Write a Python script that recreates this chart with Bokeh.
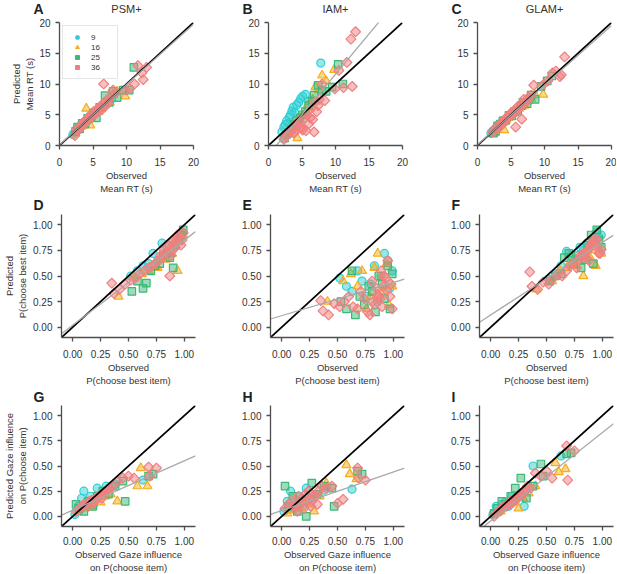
import numpy as np
from bokeh.plotting import figure
from bokeh.layouts import row, column
from bokeh.models import Range1d, FixedTicker, PrintfTickFormatter, Legend, LegendItem
from bokeh.core.properties import value
from bokeh.embed import file_html
from bokeh.resources import INLINE

set_sizes = ["9", "16", "25", "36"]
group_colors = ["#2fcfd6", "#f5ad1f", "#3cb878", "#f08080"]
group_markers = ["circle", "triangle", "square", "square"]
group_angles = [0, 0, 0, np.pi / 4]
group_msize = [8, 9, 7.5, 7]
models = ["PSM+", "IAM+", "GLAM+"]
panel_letters = [["A", "B", "C"], ["D", "E", "F"], ["G", "H", "I"]]

# ---------------- Row 1: mean RT (s) ----------------
rt_obs_9 = [2.0, 2.3, 2.5, 2.7, 2.9, 3.1, 3.3, 3.5, 3.7, 3.9, 4.2, 4.5, 4.8, 5.1, 5.5, 6.0, 7.8]
rt_psm_9 = [1.8, 2.1, 2.6, 2.5, 3.0, 3.0, 3.5, 3.3, 3.8, 4.0, 4.0, 4.7, 4.6, 5.3, 5.4, 6.1, 7.6]
rt_iam_9 = [2.2, 3.0, 3.4, 4.0, 3.6, 4.6, 5.0, 5.6, 6.2, 5.4, 6.6, 7.0, 7.6, 8.0, 8.3, 7.2, 13.4]
rt_glam_9 = [2.0, 2.4, 2.4, 2.8, 3.0, 3.3, 3.2, 3.6, 3.6, 4.1, 4.0, 4.6, 4.9, 5.0, 5.6, 5.8, 7.5]

rt_obs_16 = [2.3, 2.8, 3.2, 3.6, 4.0, 4.3, 4.6, 5.0, 5.4, 5.8, 6.2, 6.6, 7.0, 7.5, 8.0, 8.6, 9.8]
rt_psm_16 = [2.0, 2.9, 3.1, 3.3, 6.0, 4.1, 3.3, 5.2, 5.6, 5.5, 6.0, 6.9, 7.2, 7.0, 8.3, 8.8, 8.0]
rt_iam_16 = [1.5, 2.2, 2.6, 3.0, 3.5, 1.2, 4.0, 4.8, 5.2, 6.5, 6.0, 7.5, 9.5, 9.0, 11.4, 10.5, 12.3]
rt_glam_16 = [2.2, 2.6, 3.3, 3.5, 2.5, 4.2, 4.5, 5.0, 5.2, 6.0, 6.0, 6.3, 6.5, 7.2, 7.6, 8.2, 8.3]

rt_obs_25 = [2.4, 2.7, 3.0, 3.4, 3.8, 4.2, 4.7, 5.1, 5.5, 6.0, 6.5, 6.8, 7.4, 8.0, 8.6, 9.5, 10.4, 11.1]
rt_psm_25 = [2.3, 3.0, 2.7, 3.6, 3.5, 4.4, 4.6, 5.3, 4.5, 6.2, 6.4, 8.1, 7.0, 8.8, 7.8, 9.0, 9.0, 12.7]
rt_iam_25 = [1.2, 1.8, 2.0, 2.6, 3.5, 4.0, 4.5, 5.0, 5.5, 6.5, 7.2, 8.2, 9.8, 9.0, 8.8, 9.5, 13.2, 10.0]
rt_glam_25 = [2.0, 2.3, 3.2, 3.5, 4.0, 4.1, 4.9, 4.8, 5.5, 5.6, 6.5, 7.0, 6.8, 8.2, 7.5, 9.6, 10.5, 11.3]

rt_obs_36 = [2.3, 2.6, 3.0, 3.3, 3.6, 3.9, 4.2, 4.5, 4.8, 5.1, 5.4, 5.7, 6.0, 6.3, 6.6, 6.9, 7.2,
             7.6, 8.0, 8.4, 9.9, 10.5, 11.2, 11.7, 12.3, 12.5, 13.0, 3.8, 4.4, 5.0, 5.6, 6.2, 6.8, 7.4]
rt_psm_36 = [1.6, 2.6, 2.8, 3.5, 3.4, 4.1, 4.0, 4.8, 4.6, 5.5, 5.2, 6.0, 6.1, 5.8, 10.0, 7.2, 6.8,
             8.0, 9.0, 8.5, 9.0, 9.2, 10.0, 13.0, 11.8, 10.7, 12.7, 3.6, 4.6, 5.2, 5.4, 6.5, 6.4, 7.5]
rt_iam_36 = [1.0, 1.5, 2.0, 2.5, 3.0, 2.2, 3.5, 4.0, 3.0, 2.5, 4.5, 5.0, 3.5, 6.0, 4.2, 7.0, 5.5,
             7.5, 10.0, 7.3, 9.2, 12.2, 9.4, 13.5, 17.3, 9.6, 18.5, 2.0, 3.2, 2.8, 2.4, 4.5, 2.2, 6.5]
rt_glam_36 = [2.2, 2.5, 3.1, 3.0, 3.8, 3.7, 4.4, 4.4, 5.0, 5.0, 5.6, 3.0, 6.3, 6.2, 4.3, 7.5, 7.0,
              7.8, 8.2, 9.8, 10.0, 10.5, 11.8, 12.1, 11.2, 11.5, 14.4, 3.6, 4.3, 5.3, 5.4, 6.0, 6.9, 7.2]

# ---------------- Row 2: P(choose best item) ----------------
pb_obs_9 = [0.52, 0.58, 0.63, 0.68, 0.72, 0.76, 0.80, 0.83, 0.86, 0.89, 0.92, 0.95, 0.97, 0.99]
pb_psm_9 = [0.50, 0.55, 0.60, 0.62, 0.72, 0.65, 0.82, 0.70, 0.75, 0.78, 0.80, 0.85, 0.88, 0.92]
pb_iam_9 = [0.48, 0.40, 0.35, 0.55, 0.45, 0.30, 0.42, 0.60, 0.25, 0.50, 0.72, 0.65, 0.38, 0.55]
pb_glam_9 = [0.47, 0.52, 0.60, 0.74, 0.70, 0.66, 0.78, 0.75, 0.82, 0.80, 0.85, 0.93, 0.88, 0.90]

pb_obs_16 = [0.41, 0.55, 0.62, 0.68, 0.72, 0.76, 0.79, 0.83, 0.86, 0.89, 0.91, 0.94, 0.96, 0.99]
pb_psm_16 = [0.30, 0.48, 0.52, 0.55, 0.60, 0.58, 0.68, 0.66, 0.75, 0.72, 0.80, 0.55, 0.85, 0.90]
pb_iam_16 = [0.25, 0.45, 0.52, 0.40, 0.55, 0.18, 0.30, 0.58, 0.72, 0.48, 0.35, 0.62, 0.22, 0.40]
pb_glam_16 = [0.37, 0.45, 0.55, 0.58, 0.62, 0.60, 0.65, 0.50, 0.70, 0.68, 0.75, 0.60, 0.80, 0.72]

pb_obs_25 = [0.53, 0.58, 0.63, 0.66, 0.70, 0.74, 0.78, 0.81, 0.84, 0.87, 0.90, 0.92, 0.95, 0.97, 0.99]
pb_psm_25 = [0.35, 0.45, 0.38, 0.43, 0.55, 0.60, 0.62, 0.70, 0.72, 0.68, 0.58, 0.80, 0.85, 0.90, 0.95]
pb_iam_25 = [0.25, 0.18, 0.55, 0.12, 0.30, 0.22, 0.40, 0.35, 0.15, 0.50, 0.42, 0.28, 0.60, 0.18, 0.52]
pb_glam_25 = [0.45, 0.50, 0.52, 0.68, 0.72, 0.62, 0.70, 0.58, 0.66, 0.80, 0.90, 0.62, 0.95, 0.85, 0.78]

pb_obs_36 = [0.35, 0.37, 0.42, 0.47, 0.52, 0.56, 0.60, 0.64, 0.68, 0.71, 0.74, 0.77, 0.79, 0.81, 0.83,
             0.85, 0.87, 0.89, 0.91, 0.93, 0.95, 0.97, 0.99, 0.82, 0.86, 0.90, 0.94, 0.98, 0.88, 0.92]
pb_psm_36 = [0.43, 0.33, 0.37, 0.42, 0.46, 0.48, 0.52, 0.55, 0.58, 0.60, 0.62, 0.65, 0.70, 0.68, 0.72,
             0.78, 0.50, 0.75, 0.82, 0.85, 0.88, 0.80, 0.92, 0.75, 0.80, 0.84, 0.90, 0.85, 0.70, 0.78]
pb_iam_36 = [0.26, 0.16, 0.12, 0.23, 0.20, 0.25, 0.30, 0.20, 0.18, 0.35, 0.28, 0.15, 0.12, 0.45, 0.22,
             0.38, 0.30, 0.55, 0.40, 0.48, 0.65, 0.30, 0.18, 0.25, 0.32, 0.20, 0.36, 0.42, 0.28, 0.50]
pb_glam_36 = [0.54, 0.40, 0.37, 0.44, 0.42, 0.48, 0.52, 0.50, 0.55, 0.60, 0.62, 0.58, 0.66, 0.70, 0.72,
              0.68, 0.75, 0.78, 0.82, 0.80, 0.85, 0.72, 0.76, 0.70, 0.74, 0.80, 0.86, 0.72, 0.65, 0.84]

# ---------------- Row 3: gaze influence on P(choose item) ----------------
gz_obs_9 = [0.02, 0.05, 0.08, 0.10, 0.13, 0.16, 0.19, 0.22, 0.26, 0.30, 0.38, 0.63]
gz_psm_9 = [0.02, 0.10, 0.18, 0.25, 0.15, 0.20, 0.12, 0.28, 0.22, 0.30, 0.32, 0.36]
gz_iam_9 = [0.05, 0.15, 0.25, 0.08, 0.12, 0.20, 0.10, 0.28, 0.18, 0.22, 0.26, 0.27]
gz_glam_9 = [0.02, 0.10, 0.05, 0.12, 0.14, 0.10, 0.20, 0.15, 0.22, 0.10, 0.50, 0.60]

gz_obs_16 = [0.05, 0.09, 0.13, 0.17, 0.21, 0.25, 0.29, 0.34, 0.40, 0.58, 0.61, 0.67]
gz_psm_16 = [0.05, 0.08, 0.12, 0.10, 0.18, 0.14, 0.20, 0.22, 0.15, 0.30, 0.48, 0.30]
gz_iam_16 = [0.03, 0.06, 0.10, 0.08, 0.15, 0.12, 0.05, 0.20, 0.33, 0.51, 0.42, 0.37]
gz_glam_16 = [0.03, 0.05, 0.10, 0.12, 0.15, 0.08, 0.18, 0.23, 0.30, 0.53, 0.44, 0.47]

gz_obs_25 = [0.03, 0.06, 0.10, 0.14, 0.18, 0.22, 0.27, 0.32, 0.38, 0.45, 0.47, 0.68, 0.72]
gz_psm_25 = [0.12, 0.08, 0.05, 0.15, 0.10, 0.20, 0.25, 0.22, 0.30, 0.35, 0.15, 0.40, 0.42]
gz_iam_25 = [0.30, 0.10, 0.20, 0.05, 0.15, 0.00, 0.33, 0.22, 0.30, 0.28, 0.10, 0.45, 0.42]
gz_glam_25 = [0.03, 0.08, 0.15, 0.12, 0.20, 0.28, 0.38, 0.18, 0.30, 0.52, 0.40, 0.62, 0.63]

gz_obs_36 = [0.03, 0.06, 0.09, 0.12, 0.15, 0.18, 0.21, 0.24, 0.27, 0.30, 0.33, 0.36, 0.40, 0.45,
             0.50, 0.55, 0.68, 0.69, 0.75, 0.10, 0.14, 0.17, 0.20, 0.23, 0.26, 0.29, 0.32]
gz_psm_36 = [0.05, 0.08, 0.10, 0.12, 0.15, 0.14, 0.18, 0.20, 0.22, 0.25, 0.28, 0.30, 0.35, 0.38,
             0.40, 0.38, 0.49, 0.40, 0.48, 0.12, 0.10, 0.16, 0.15, 0.20, 0.18, 0.24, 0.26]
gz_iam_36 = [0.08, 0.12, 0.15, 0.10, 0.20, 0.18, 0.22, 0.25, 0.15, 0.20, 0.25, 0.30, 0.28, 0.30,
             0.13, 0.17, 0.48, 0.38, 0.36, 0.10, 0.05, 0.12, 0.08, 0.15, 0.10, 0.20, 0.12]
gz_glam_36 = [0.00, 0.04, 0.06, 0.10, 0.12, 0.15, 0.16, 0.20, 0.22, 0.25, 0.30, 0.28, 0.43, 0.40,
              0.45, 0.38, 0.70, 0.36, 0.65, 0.08, 0.10, 0.12, 0.14, 0.18, 0.20, 0.22, 0.26]

# regression (grey) line of each panel: slope / intercept, rows x models
fit_slope = [[0.98, 1.31, 0.97], [0.83, 0.325, 0.708], [0.49, 0.383, 0.877]]
fit_intercept = [[0.10, -1.51, 0.10], [0.02, 0.113, 0.12], [0.062, 0.058, -0.045]]

row_range = [(0, 20), (-0.1, 1.1), (-0.1, 1.1)]
row_ticks = [[0, 5, 10, 15, 20], [0, 0.25, 0.5, 0.75, 1.0], [0, 0.25, 0.5, 0.75, 1.0]]
row_xlabel = ["Observed\nMean RT (s)", "Observed\nP(choose best item)",
              "Observed Gaze influence\non P(choose item)"]
row_ylabel = ["Predicted\nMean RT (s)", "Predicted\nP(choose best item)",
              "Predicted Gaze influence\non P(choose item)"]

row_obs = [
    [rt_obs_9, rt_obs_16, rt_obs_25, rt_obs_36],
    [pb_obs_9, pb_obs_16, pb_obs_25, pb_obs_36],
    [gz_obs_9, gz_obs_16, gz_obs_25, gz_obs_36],
]
row_pred = [
    [[rt_psm_9, rt_psm_16, rt_psm_25, rt_psm_36],
     [rt_iam_9, rt_iam_16, rt_iam_25, rt_iam_36],
     [rt_glam_9, rt_glam_16, rt_glam_25, rt_glam_36]],
    [[pb_psm_9, pb_psm_16, pb_psm_25, pb_psm_36],
     [pb_iam_9, pb_iam_16, pb_iam_25, pb_iam_36],
     [pb_glam_9, pb_glam_16, pb_glam_25, pb_glam_36]],
    [[gz_psm_9, gz_psm_16, gz_psm_25, gz_psm_36],
     [gz_iam_9, gz_iam_16, gz_iam_25, gz_iam_36],
     [gz_glam_9, gz_glam_16, gz_glam_25, gz_glam_36]],
]

FONT = "Liberation Sans"
TXT = "#333333"
AX = "#4d4d4d"
FW = 134
FH = [123, 123, 121]
border_left = [59, 59, 59]
border_right = [16, 16, 5]
border_top = [6, 0, 0]
border_bottom = [50, 50, 48]
xtick_standoff = [8, 8, 6]
strip_h = [16, 18, 17]
ylabel_standoff = [1, 2, 2]
TOTAL_W = sum(border_left) + 3 * FW + sum(border_right)


def make_strip(r):
    H = strip_h[r]
    s = figure(frame_width=TOTAL_W, frame_height=H,
               x_range=Range1d(0, TOTAL_W), y_range=Range1d(0, H),
               min_border_left=0, min_border_right=0, min_border_top=0, min_border_bottom=0,
               x_axis_location=None, y_axis_location=None,
               output_backend="svg", toolbar_location=None, tools="")
    s.grid.visible = False
    s.outline_line_color = None
    x0 = []
    acc = 0
    for c in range(3):
        x0.append(acc + border_left[c])
        acc += border_left[c] + FW + border_right[c]
    s.text(x=[v - 26 for v in x0], y=[H - 8.5] * 3, text=panel_letters[r],
           text_font=value(FONT), text_font_size="14px", text_font_style="bold",
           text_color="#222222", text_align="left", text_baseline="middle")
    if r == 0:
        s.text(x=[v + FW / 2 for v in x0], y=[H - 8.5] * 3, text=models,
               text_font=value(FONT), text_font_size="11px",
               text_color=TXT, text_align="center", text_baseline="middle")
    return s


blocks = []
for r in range(3):
    lo, hi = row_range[r]
    figs = []
    for c in range(3):
        p = figure(frame_width=FW, frame_height=FH[r],
                   x_range=Range1d(lo, hi), y_range=Range1d(lo, hi),
                   min_border_left=border_left[c], min_border_right=border_right[c],
                   min_border_top=border_top[r], min_border_bottom=border_bottom[r],
                   output_backend="svg", toolbar_location=None, tools="")
        p.outline_line_color = None
        p.xgrid.grid_line_color = None
        p.ygrid.grid_line_color = None
        for ax in (p.xaxis[0], p.yaxis[0]):
            ax.ticker = FixedTicker(ticks=row_ticks[r])
            if r > 0:
                ax.formatter = PrintfTickFormatter(format="%.2f")
            ax.axis_line_color = AX
            ax.axis_line_width = 1.3
            ax.major_tick_line_color = AX
            ax.major_tick_line_width = 1.3
            ax.major_tick_out = 4
            ax.major_tick_in = 0
            ax.minor_tick_line_color = None
            ax.major_label_text_font = FONT
            ax.major_label_text_font_size = "10px"
            ax.major_label_text_color = TXT
            ax.axis_label_text_font = FONT
            ax.axis_label_text_font_size = "9.5px"
            ax.axis_label_text_font_style = "normal"
            ax.axis_label_text_color = TXT
        p.xaxis.major_label_standoff = xtick_standoff[r]
        p.xaxis.axis_label_standoff = 1
        p.yaxis.major_label_standoff = 5
        p.yaxis.axis_label_standoff = ylabel_standoff[r]
        p.xaxis.axis_label = row_xlabel[r]
        if c == 0:
            p.yaxis.axis_label = row_ylabel[r]

        for g in range(4):
            col = group_colors[g]
            p.scatter(row_obs[r][g], row_pred[r][c][g], marker=group_markers[g],
                      angle=group_angles[g], size=group_msize[g],
                      fill_color=col, fill_alpha=0.5, line_color=col, line_width=1.2)

        p.line([lo, hi], [lo, hi], line_color="black", line_width=1.7)
        xs = [lo, hi]
        ys = [fit_intercept[r][c] + fit_slope[r][c] * x for x in xs]
        p.line(xs, ys, line_color="#a9a9a9", line_width=1.3)

        if r == 0 and c == 0:
            items = []
            for g in range(4):
                col = group_colors[g]
                dr = p.scatter([np.nan], [np.nan], marker=group_markers[g],
                               angle=group_angles[g], size=group_msize[g] - 2,
                               fill_color=col, line_color=col, line_width=1)
                items.append(LegendItem(label=set_sizes[g], renderers=[dr]))
            leg = Legend(items=items, location="top_left", margin=3, padding=6,
                         spacing=0, glyph_width=16, glyph_height=10, label_height=10,
                         label_standoff=6, label_text_font=FONT, label_text_font_size="8px",
                         label_text_color=TXT, border_line_color="#cccccc",
                         border_line_width=1, background_fill_color="white",
                         background_fill_alpha=1)
            p.add_layout(leg)
        figs.append(p)
    blocks.append(make_strip(r))
    blocks.append(row(*figs))

layout = column(*blocks)
open("out.html", "w").write(file_html(layout, INLINE))
